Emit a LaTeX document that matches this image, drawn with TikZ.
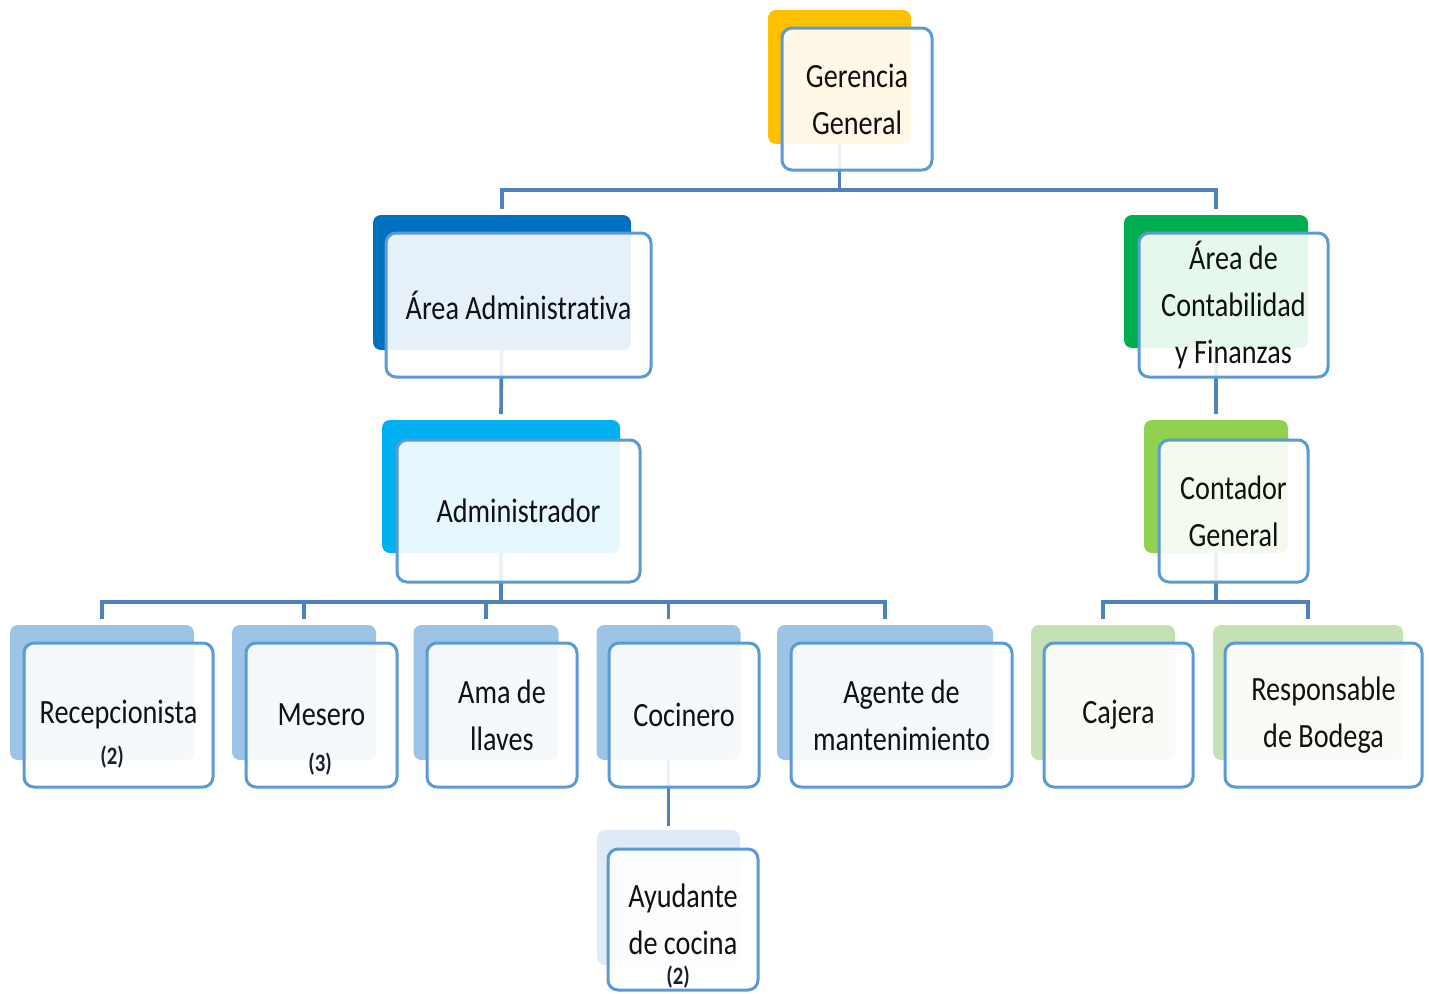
\documentclass[tikz,border=0pt]{standalone}
\usepackage{fontspec}
\setmainfont{Carlito}[FakeStretch=0.83,Ligatures={NoCommon}]
\usetikzlibrary{calc}
\pgfdeclarelayer{bg}
\pgfsetlayers{bg,main}
\definecolor{frontblue}{HTML}{5B9BD5}
\definecolor{linecol}{RGB}{79,129,189}
\definecolor{txt}{HTML}{111111}
\definecolor{cnttxt}{RGB}{30,30,50}
\definecolor{cGer}{HTML}{FFC000}
\definecolor{cAdmA}{HTML}{0070C0}
\definecolor{cConA}{HTML}{00B050}
\definecolor{cAdm}{HTML}{00B0F0}
\definecolor{cCon}{HTML}{92D050}
\definecolor{cRowA}{HTML}{9DC3E6}
\definecolor{cRowC}{HTML}{C5E0B4}
\definecolor{cAyu}{HTML}{DEEBF7}
\begin{document}
\begin{tikzpicture}[x=1pt,y=-1pt,
  back/.style={rectangle, rounded corners=8pt, inner sep=0pt, outer sep=0pt, draw=none},
  front/.style={rectangle, rounded corners=10pt, draw=frontblue, line width=3pt, fill=white, fill opacity=0.9, text opacity=1, inner sep=0pt, outer sep=0pt, align=center, font=\fontsize{34}{47}\selectfont, text=txt},
  conn/.style={draw=linecol, line width=3.6pt},
  cnt/.style={font=\bfseries\fontsize{25}{28}\selectfont, text=cnttxt, inner sep=0pt}]
\useasboundingbox (0,0) rectangle (1429,993);

% ---- level 0
\node[back, fill=cGer, minimum width=143pt, minimum height=134pt] (gerB) at (839.5,77) {};
\node[front, minimum width=150pt, minimum height=142pt] (ger) at (857,99) {Gerencia\\General};

% ---- level 1
\node[back, fill=cAdmA, minimum width=258pt, minimum height=135pt] (admAB) at (502,282.5) {};
\node[front, minimum width=265pt, minimum height=144pt] (admA) at (518.5,305) {Área Administrativa};

\node[back, fill=cConA, minimum width=184pt, minimum height=133pt] (conAB) at (1216,281.5) {};
\node[front, minimum width=189pt, minimum height=144pt] (conA) at (1233.5,305) {Área de\\Contabilidad\\y Finanzas};

% ---- level 2
\node[back, fill=cAdm, minimum width=238pt, minimum height=133pt] (admB) at (501,486.5) {};
\node[front, minimum width=243pt, minimum height=142pt] (adm) at (518.5,511) {Administrador};

\node[back, fill=cCon, minimum width=144pt, minimum height=133pt] (conB) at (1216,486.5) {};
\node[front, minimum width=149pt, minimum height=142pt] (con) at (1233.5,511) {Contador\\General};

% ---- level 3
\node[back, fill=cRowA, minimum width=184pt, minimum height=135pt] (recB) at (102,692.5) {};
\node[front, minimum width=189pt, minimum height=144pt] (rec) at (118.5,715) {Recepcionista};
\node[cnt] (recN) at (112,757) {(2)};

\node[back, fill=cRowA, minimum width=144pt, minimum height=135pt] (mesB) at (304,692.5) {};
\node[front, minimum width=151pt, minimum height=144pt] (mes) at (321.5,715) {Mesero};
\node[cnt] (mesN) at (320,764) {(3)};

\node[back, fill=cRowA, minimum width=145pt, minimum height=135pt] (amaB) at (486,692.5) {};
\node[front, minimum width=150pt, minimum height=144pt] (ama) at (502,715) {Ama de\\llaves};

\node[back, fill=cRowA, minimum width=144pt, minimum height=135pt] (cocB) at (668.5,692.5) {};
\node[front, minimum width=150pt, minimum height=144pt] (coc) at (684,715) {Cocinero};

\node[back, fill=cRowA, minimum width=216pt, minimum height=135pt] (ageB) at (885,692.5) {};
\node[front, minimum width=221pt, minimum height=144pt] (age) at (901.5,715) {Agente de\\mantenimiento};

\node[back, fill=cRowC, minimum width=144pt, minimum height=135pt] (cajB) at (1103,692.5) {};
\node[front, minimum width=149pt, minimum height=144pt] (caj) at (1118.5,715) {Cajera};

\node[back, fill=cRowC, minimum width=190pt, minimum height=135pt] (resB) at (1308,692.5) {};
\node[front, minimum width=197pt, minimum height=144pt] (res) at (1323.5,715) {Responsable\\de Bodega};

% ---- level 4
\node[back, fill=cAyu, minimum width=143pt, minimum height=135pt] (ayuB) at (668.5,897.5) {};
\node[front, minimum width=150pt, minimum height=141pt] (ayu) at (683,919.5) {Ayudante\\de cocina};
\node[cnt] (ayuN) at (678,977) {(2)};

% ---- connectors
\coordinate (bus0) at (839.5,190);
\coordinate (busA) at (501,602);
\coordinate (busC) at (1216,602);
\begin{pgfonlayer}{bg}
\fill[white] (0,0) rectangle (1429,993);
\draw[conn] (gerB.center) -- (bus0);
\draw[conn] ([yshift=6pt]admAB.north) |- (bus0) -| ([yshift=6pt]conAB.north);
\draw[conn] (admAB.center) -- ([yshift=6pt]admB.north);
\draw[conn] (conAB.center) -- ([yshift=6pt]conB.north);
\draw[conn] (admB.center) -- (busA);
\draw[conn] ([yshift=6pt]recB.north) |- (busA) -| ([yshift=6pt]ageB.north);
\draw[conn] (mesB.center |- busA) -- ([yshift=6pt]mesB.north);
\draw[conn] (amaB.center |- busA) -- ([yshift=6pt]amaB.north);
\draw[conn] (cocB.center |- busA) -- ([yshift=6pt]cocB.north);
\draw[conn] (conB.center) -- (busC);
\draw[conn] ([yshift=6pt]cajB.north) |- (busC) -| ([yshift=6pt]resB.north);
\draw[conn] (cocB.center) -- ([yshift=4pt]ayuB.north);
\end{pgfonlayer}
\end{tikzpicture}
\end{document}
